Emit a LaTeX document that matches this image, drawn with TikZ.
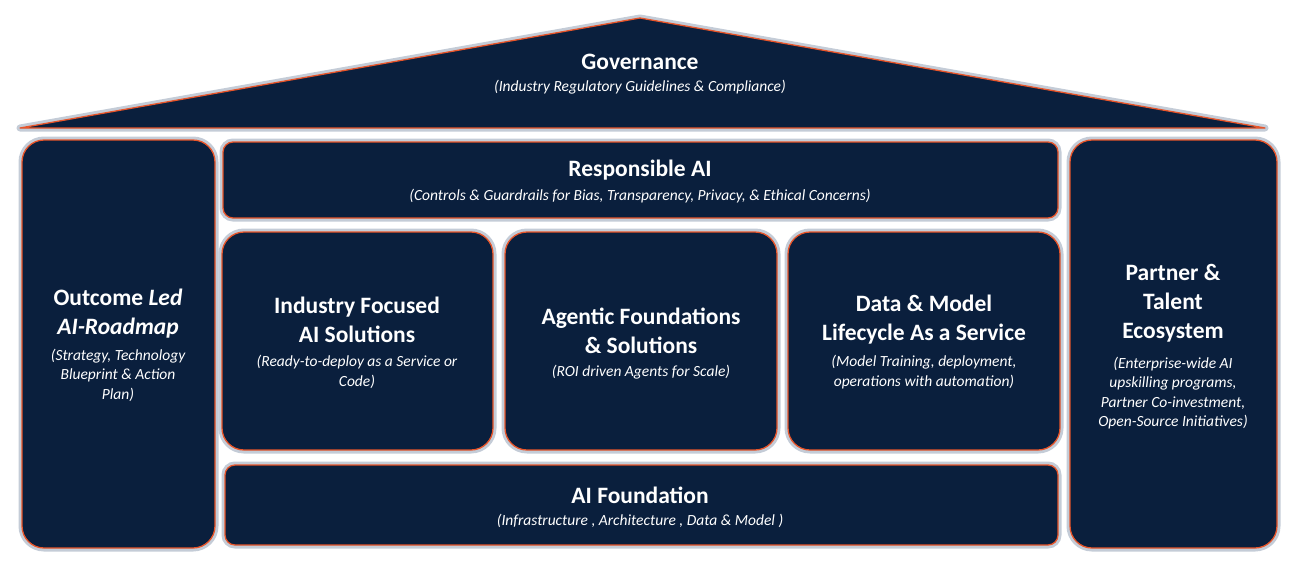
\documentclass[tikz,border=0pt]{standalone}
\usepackage{fontspec}
\setmainfont{Carlito}
\definecolor{navy}{HTML}{0A1F3D}
\definecolor{edge}{HTML}{E8552A}
\definecolor{glow}{HTML}{8A99B0}
\begin{document}
\begin{tikzpicture}[x=1pt,y=-1pt,
  blk/.style={fill=navy,draw=edge,line width=1.3pt,rounded corners=#1,
    preaction={draw=glow,line width=7pt,opacity=0.5,rounded corners=#1}},
  blk/.default=12pt,
  txt/.style={text=white,align=center,font=\bfseries\fontsize{23.5}{29}\selectfont},
  sub/.style={text=white,align=center,font=\itshape\fontsize{15.5}{19.5}\selectfont}]
\useasboundingbox (0,0) rectangle (1300,565);
\draw[fill=navy,draw=edge,line width=1.3pt,line join=round,preaction={draw=glow,line width=7pt,opacity=0.5,line join=round}] (20,128) -- (640,18) -- (1265,128) -- cycle;
\node[txt] (gov) at (640,62) {Governance};
\node[sub] (govs) at (640,87) {(Industry Regulatory Guidelines \& Compliance)};
\draw[blk=22pt] (22,140) rectangle (215,548);
\node[txt] (lt) at (118,314) {Outcome \textit{Led}\\\textit{AI-Roadmap}};
\node[sub] (ls) at (118,375) {(Strategy, Technology\\Blueprint \& Action\\Plan)};
\draw[blk=22pt] (1070,140) rectangle (1277,548);
\node[txt] (rt) at (1173,303) {Partner \&\\Talent\\Ecosystem};
\node[sub] (rs) at (1173,393) {(Enterprise-wide AI\\upskilling programs,\\Partner Co-investment,\\Open-Source Initiatives)};
\draw[blk=10pt] (223,142) rectangle (1058,218);
\node[txt] (ra) at (640,170) {Responsible AI};
\node[sub] (ras) at (640,196) {(Controls \& Guardrails for Bias, Transparency, Privacy, \& Ethical Concerns)};
\draw[blk=22pt] (222,232) rectangle (493,450);
\draw[blk=22pt] (505,232) rectangle (777,450);
\draw[blk=22pt] (788,232) rectangle (1060,450);
\node[txt] (m1) at (357,320) {Industry Focused\\AI Solutions};
\node[sub] (m1s) at (357,372) {(Ready-to-deploy as a Service or\\Code)};
\node[txt] (m2) at (641,331) {Agentic Foundations\\\& Solutions};
\node[sub] (m2s) at (641,372) {(ROI driven Agents for Scale)};
\node[txt] (m3) at (924,320) {Data \& Model\\Lifecycle As a Service};
\node[sub] (m3s) at (924,372) {(Model Training, deployment,\\operations with automation)};
\draw[blk=10pt] (225,465) rectangle (1058,545);
\node[txt] (af) at (640,495) {AI Foundation};
\node[sub] (afs) at (640,521) {(Infrastructure , Architecture , Data \& Model )};
\end{tikzpicture}
\end{document}
